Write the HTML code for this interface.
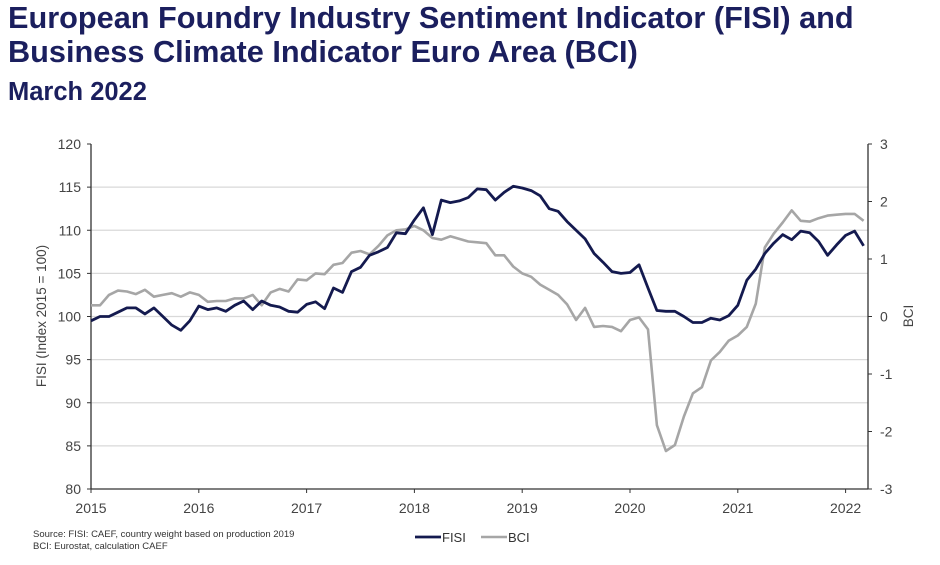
<!DOCTYPE html>
<html><head><meta charset="utf-8">
<style>
body{margin:0;background:#fff;width:940px;height:565px;overflow:hidden;font-family:"Liberation Sans",Arial,sans-serif}
.t{position:absolute;left:8px;color:#1b1f5e;font-weight:bold;white-space:nowrap}
</style></head><body>
<div class="t" style="top:1px;font-size:30.7px;line-height:34px">European Foundry Industry Sentiment Indicator (FISI) and<br>Business Climate Indicator Euro Area (BCI)</div>
<div class="t" style="top:78px;font-size:25.5px;line-height:28px">March 2022</div>
<svg id="s" width="940" height="565" style="position:absolute;left:0;top:0" font-family="Liberation Sans, Arial, sans-serif"></svg>
<script>
var s=document.getElementById('s'),h='';
function Y(v){return 489-(v-80)*8.625;}
function X(m){return 91+m*107.8/12;}
for(var v=85;v<=115;v+=5)h+='<line x1="91" x2="868" y1="'+Y(v)+'" y2="'+Y(v)+'" stroke="#d9d9d9" stroke-width="1.3"/>';
h+='<line x1="91" x2="91" y1="144" y2="489" stroke="#333" stroke-width="1.3"/>';
h+='<line x1="868" x2="868" y1="144" y2="489" stroke="#333" stroke-width="1.3"/>';
h+='<line x1="91" x2="868" y1="489" y2="489" stroke="#333" stroke-width="1.3"/>';
for(var v=80;v<=120;v+=5){h+='<line x1="87" x2="91" y1="'+Y(v)+'" y2="'+Y(v)+'" stroke="#333"/><text x="81" y="'+(Y(v)+5)+'" font-size="14" fill="#444" text-anchor="end">'+v+'</text>';}
for(var b=-3;b<=3;b++){var y=316.5-b*57.5;h+='<line x1="868" x2="872" y1="'+y+'" y2="'+y+'" stroke="#333"/><text x="880" y="'+(y+5)+'" font-size="14" fill="#444">'+b+'</text>';}
for(var yr=0;yr<=7;yr++){var x=X(yr*12);h+='<line x1="'+x+'" x2="'+x+'" y1="489" y2="493" stroke="#333"/><text x="'+x+'" y="513" font-size="14" fill="#444" text-anchor="middle">'+(2015+yr)+'</text>';}
h+='<text transform="translate(46,316) rotate(-90)" font-size="13.5" fill="#444" text-anchor="middle">FISI (Index 2015 = 100)</text>';
h+='<text transform="translate(913,316) rotate(-90)" font-size="13.5" fill="#444" text-anchor="middle">BCI</text>';
var f=[99.5,100,100,100.5,101,101,100.3,101,100,99,98.4,99.5,
101.2,100.8,101,100.6,101.3,101.8,100.8,101.8,101.3,101.1,100.6,100.5,
101.4,101.7,100.9,103.3,102.8,105.2,105.7,107.1,107.5,108,109.7,109.6,
111.2,112.6,109.5,113.5,113.2,113.4,113.8,114.8,114.7,113.5,114.4,115.1,
114.9,114.6,114,112.5,112.2,111,110,109,107.3,106.3,105.2,105,
105.1,106,103.3,100.7,100.6,100.6,100,99.3,99.3,99.8,99.6,100.1,
101.3,104.2,105.5,107.3,108.5,109.5,108.9,109.9,109.7,108.7,107.1,108.3,
109.4,109.9,108.2];
var g=[101.3,101.3,102.5,103,102.9,102.6,103.1,102.3,102.5,102.7,102.3,102.8,
102.5,101.7,101.8,101.8,102.1,102.1,102.5,101.3,102.8,103.2,102.9,104.3,
104.2,105,104.9,106,106.2,107.4,107.6,107.2,108.2,109.4,110,110.1,
110.5,110,109.1,108.9,109.3,109,108.7,108.6,108.5,107.1,107.1,105.8,
105,104.6,103.7,103.1,102.5,101.4,99.6,101,98.8,98.9,98.8,98.3,
99.6,99.9,98.5,87.4,84.4,85.1,88.4,91.1,91.8,94.9,95.9,97.2,
97.8,98.8,101.5,108,109.6,110.9,112.3,111.1,111,111.4,111.7,111.8,
111.9,111.9,111.1];
function P(a){return a.map(function(v,i){return X(i).toFixed(1)+','+Y(v).toFixed(1)}).join(' ');}
h+='<polyline points="'+P(g)+'" fill="none" stroke="#a6a6a6" stroke-width="2.6" stroke-linejoin="round"/>';
h+='<polyline points="'+P(f)+'" fill="none" stroke="#141a4f" stroke-width="2.8" stroke-linejoin="round"/>';
h+='<text x="33" y="537" font-size="9.5" fill="#333">Source: FISI: CAEF, country weight based on production 2019</text>';
h+='<text x="33" y="549" font-size="9.5" fill="#333">BCI: Eurostat, calculation CAEF</text>';
h+='<line x1="415" x2="441" y1="537" y2="537" stroke="#141a4f" stroke-width="2.8"/><text x="442" y="542" font-size="13" fill="#333">FISI</text>';
h+='<line x1="481" x2="507" y1="537" y2="537" stroke="#a6a6a6" stroke-width="2.6"/><text x="508" y="542" font-size="13" fill="#333">BCI</text>';
s.innerHTML=h;
</script>
</body></html>
